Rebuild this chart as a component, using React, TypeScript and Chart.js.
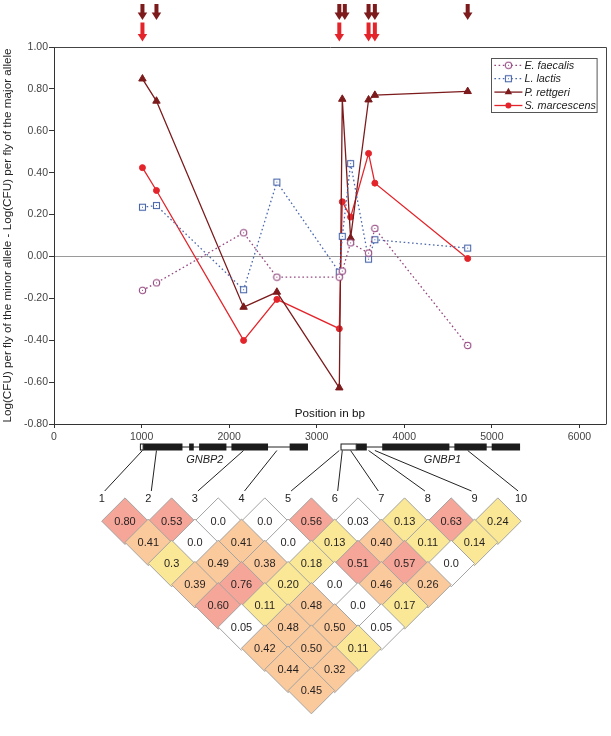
import React, { useEffect, useRef } from 'react';
import { Chart, registerables } from 'chart.js';

Chart.register(...registerables);

const FONT = '"Liberation Sans", Arial, Helvetica, sans-serif';

// ---- main plot data ----
const SNP_POSITIONS = [1010, 1170, 2165, 2545, 3258, 3292, 3387, 3592, 3664, 4724];
const SNP_LABELS = ['1', '2', '3', '4', '5', '6', '7', '8', '9', '10'];

const E_FAECALIS = [-0.162, -0.126, 0.113, -0.099, -0.099, -0.07, 0.065, 0.016, 0.134, -0.425];
const L_LACTIS = [0.235, 0.243, -0.159, 0.355, -0.075, 0.096, 0.443, -0.013, 0.08, 0.04];
const P_RETTGERI = [0.848, 0.742, -0.242, -0.17, -0.627, 0.751, 0.088, 0.748, 0.77, 0.788];
const S_MARCESCENS = [0.424, 0.315, -0.401, -0.205, -0.345, 0.261, 0.188, 0.492, 0.35, -0.01];

const SERIES_NAMES = ['E. faecalis', 'L. lactis', 'P. rettgeri', 'S. marcescens'];

// SNPs marked with arrows (significant) for P. rettgeri (dark) and S. marcescens (red)
const P_RETTGERI_SIGNIFICANT = [1, 2, 5, 6, 8, 9, 10];
const S_MARCESCENS_SIGNIFICANT = [1, 5, 8, 9];

const X_TICK_LABELS = ['0', '1000', '2000', '3000', '4000', '5000', '6000'];
const Y_TICK_LABELS = ['-0.80', '-0.60', '-0.40', '-0.20', '0.00', '0.20', '0.40', '0.60', '0.80', '1.00'];

// ---- gene models (bp) ----
const GENE_NAMES = ['GNBP2', 'GNBP1'];
const GENE_SPANS = [[981, 2900], [3272, 5322]];
const GENE_UTRS = [[981, 1018], [3272, 3451]];
const GNBP2_EXONS = [[1018, 1467], [1543, 1596], [1657, 1969], [2026, 2444], [2691, 2900]];
const GNBP1_EXONS = [[3451, 3572], [3748, 4515], [4572, 4941], [4998, 5322]];
const GENE_LABEL_POS = [1722, 4436];

// ---- LD (r2) triangle: row d holds pairs (i, i+d) ----
const LD_ROW1 = ['0.80', '0.53', '0.0', '0.0', '0.56', '0.03', '0.13', '0.63', '0.24'];
const LD_ROW2 = ['0.41', '0.0', '0.41', '0.0', '0.13', '0.40', '0.11', '0.14'];
const LD_ROW3 = ['0.3', '0.49', '0.38', '0.18', '0.51', '0.57', '0.0'];
const LD_ROW4 = ['0.39', '0.76', '0.20', '0.0', '0.46', '0.26'];
const LD_ROW5 = ['0.60', '0.11', '0.48', '0.0', '0.17'];
const LD_ROW6 = ['0.05', '0.48', '0.50', '0.05'];
const LD_ROW7 = ['0.42', '0.50', '0.11'];
const LD_ROW8 = ['0.44', '0.32'];
const LD_ROW9 = ['0.45'];
// LD strength class per cell: h = strong, m = moderate, l = weak, n = none
const LD_CLASS = ['hhnnhnlhl', 'mnmnlmll', 'lmmlhhn', 'mhlnmm', 'hlmnl', 'nmmn', 'mml', 'mm', 'm'];

const LD_ROWS = [LD_ROW1, LD_ROW2, LD_ROW3, LD_ROW4, LD_ROW5, LD_ROW6, LD_ROW7, LD_ROW8, LD_ROW9];
const LD_COLORS: Record<string, string> = { h: '#f5a698', m: '#fbca9c', l: '#fae896', n: '#ffffff' };

const PURPLE = '#94477f';
const BLUE = '#4a67ab';
const DARK_RED = '#7c1a1c';
const RED = '#e3252b';

function makeMarker(kind: 'circle' | 'square', color: string) {
  const c = document.createElement('canvas');
  c.width = 9;
  c.height = 9;
  const g = c.getContext('2d')!;
  g.fillStyle = '#ffffff';
  g.strokeStyle = color;
  g.lineWidth = 1.1;
  if (kind === 'circle') {
    g.beginPath();
    g.arc(4.5, 4.5, 3.2, 0, Math.PI * 2);
    g.fill();
    g.stroke();
  } else {
    g.fillRect(1.5, 1.5, 6, 6);
    g.strokeRect(1.5, 1.5, 6, 6);
  }
  g.fillStyle = color;
  g.fillRect(4, 4, 1, 1);
  return c;
}

function drawArrow(ctx: CanvasRenderingContext2D, x: number, tipY: number, len: number, color: string) {
  const shaftW = 4;
  const headW = 9.5;
  const headH = 7.5;
  ctx.fillStyle = color;
  ctx.fillRect(x - shaftW / 2, tipY - len, shaftW, len - headH + 0.5);
  ctx.beginPath();
  ctx.moveTo(x - headW / 2, tipY - headH);
  ctx.lineTo(x + headW / 2, tipY - headH);
  ctx.lineTo(x, tipY);
  ctx.closePath();
  ctx.fill();
}

export default function App() {
  const refA = useRef<HTMLCanvasElement>(null);
  const refB = useRef<HTMLCanvasElement>(null);

  useEffect(() => {
    const circleMarker = makeMarker('circle', PURPLE);
    const squareMarker = makeMarker('square', BLUE);
    const values = [E_FAECALIS, L_LACTIS, P_RETTGERI, S_MARCESCENS];

    const mainPlugin = {
      id: 'decor',
      afterDraw(chart: any) {
        const ctx: CanvasRenderingContext2D = chart.ctx;
        const a = chart.chartArea;
        const xs = chart.scales.x;
        ctx.save();
        // top & right frame
        ctx.strokeStyle = '#444';
        ctx.lineWidth = 1;
        ctx.beginPath();
        ctx.moveTo(Math.round(a.left) + 0.5, Math.round(a.top) + 0.5);
        ctx.lineTo(Math.round(a.right) + 0.5, Math.round(a.top) + 0.5);
        ctx.lineTo(Math.round(a.right) + 0.5, Math.round(a.bottom) + 0.5);
        ctx.stroke();

        // axis title inside plot
        ctx.fillStyle = '#111';
        ctx.font = `11.7px ${FONT}`;
        ctx.textAlign = 'center';
        ctx.textBaseline = 'middle';
        ctx.fillText('Position in bp', (a.left + a.right) / 2, a.bottom - 10.5);

        // legend
        const bw = 105.6;
        const bh = 54;
        const bx = a.right - 114.3;
        const by = a.top + 11.3;
        ctx.fillStyle = '#fff';
        ctx.fillRect(bx, by, bw, bh);
        ctx.strokeStyle = '#555';
        ctx.strokeRect(Math.round(bx) + 0.5, Math.round(by) + 0.5, bw, bh);
        chart.data.datasets.forEach((ds: any, k: number) => {
          const y = by + 7 + k * 13.4;
          const x0 = bx + 3;
          const x1 = bx + 31;
          ctx.strokeStyle = ds.borderColor;
          ctx.lineWidth = ds.borderWidth;
          ctx.setLineDash(ds.borderDash || []);
          ctx.beginPath();
          ctx.moveTo(x0, y);
          ctx.lineTo(x1, y);
          ctx.stroke();
          ctx.setLineDash([]);
          const cx = (x0 + x1) / 2;
          if (typeof ds.pointStyle === 'object') {
            ctx.drawImage(ds.pointStyle, cx - 4.5, y - 4.5);
          } else if (ds.pointStyle === 'triangle') {
            const r = ds.pointRadius;
            ctx.fillStyle = ds.pointBackgroundColor;
            ctx.beginPath();
            ctx.moveTo(cx, y - r);
            ctx.lineTo(cx + r * 0.866, y + r / 2);
            ctx.lineTo(cx - r * 0.866, y + r / 2);
            ctx.closePath();
            ctx.fill();
          } else {
            ctx.fillStyle = ds.pointBackgroundColor;
            ctx.beginPath();
            ctx.arc(cx, y, ds.pointRadius, 0, Math.PI * 2);
            ctx.fill();
          }
          ctx.fillStyle = '#222';
          ctx.font = `italic 10.8px ${FONT}`;
          ctx.textAlign = 'left';
          ctx.fillText(ds.label, x1 + 2, y + 0.5);
        });

        // significance arrows
        const arrowXs = (list: number[]) => {
          const out: number[] = [];
          list.forEach((snp) => {
            let x = xs.getPixelForValue(SNP_POSITIONS[snp - 1]);
            if (out.length && x - out[out.length - 1] < 5.5) x = out[out.length - 1] + 5.5;
            out.push(x);
          });
          return out;
        };
        arrowXs(P_RETTGERI_SIGNIFICANT).forEach((x) => drawArrow(ctx, x, a.top - 27, 16, DARK_RED));
        arrowXs(S_MARCESCENS_SIGNIFICANT).forEach((x) => drawArrow(ctx, x, a.top - 5.5, 19, RED));

        // gene models
        const gTop = a.bottom + 19.5;
        const gH = 7;
        const exonSets = [GNBP2_EXONS, GNBP1_EXONS];
        GENE_SPANS.forEach((span, g) => {
          ctx.strokeStyle = '#222';
          ctx.lineWidth = 1;
          ctx.beginPath();
          ctx.moveTo(xs.getPixelForValue(span[0]), gTop + gH / 2);
          ctx.lineTo(xs.getPixelForValue(span[1]), gTop + gH / 2);
          ctx.stroke();
          ctx.fillStyle = '#1c1c1c';
          exonSets[g].forEach(([s, e]) => {
            const x0 = xs.getPixelForValue(s);
            const x1 = xs.getPixelForValue(e);
            ctx.fillRect(x0, gTop, x1 - x0, gH);
          });
          const u0 = xs.getPixelForValue(GENE_UTRS[g][0]);
          const u1 = xs.getPixelForValue(GENE_UTRS[g][1]);
          ctx.fillStyle = '#fff';
          ctx.fillRect(u0, gTop, u1 - u0, gH);
          ctx.strokeStyle = '#1c1c1c';
          ctx.strokeRect(u0 + 0.5, gTop + 0.5, u1 - u0 - 0.5, gH - 1);
          ctx.fillStyle = '#222';
          ctx.font = `italic 11px ${FONT}`;
          ctx.textAlign = 'center';
          ctx.textBaseline = 'middle';
          ctx.fillText(GENE_NAMES[g], xs.getPixelForValue(GENE_LABEL_POS[g]), gTop + 16.5);
        });
        ctx.restore();
      },
    };

    const chartA = new Chart(refA.current!, {
      type: 'scatter',
      data: {
        datasets: [
          {
            label: SERIES_NAMES[0],
            data: SNP_POSITIONS.map((x, i) => ({ x, y: values[0][i] })),
            showLine: true,
            borderColor: PURPLE,
            borderWidth: 1.3,
            borderDash: [1.6, 2.6],
            pointStyle: circleMarker as any,
            pointRadius: 4,
            pointBackgroundColor: '#fff',
            pointBorderColor: PURPLE,
          },
          {
            label: SERIES_NAMES[1],
            data: SNP_POSITIONS.map((x, i) => ({ x, y: values[1][i] })),
            showLine: true,
            borderColor: BLUE,
            borderWidth: 1.3,
            borderDash: [1.6, 2.6],
            pointStyle: squareMarker as any,
            pointRadius: 4,
            pointBackgroundColor: '#fff',
            pointBorderColor: BLUE,
          },
          {
            label: SERIES_NAMES[2],
            data: SNP_POSITIONS.map((x, i) => ({ x, y: values[2][i] })),
            showLine: true,
            borderColor: DARK_RED,
            borderWidth: 1.3,
            pointStyle: 'triangle',
            pointRadius: 4.3,
            pointBackgroundColor: DARK_RED,
            pointBorderColor: DARK_RED,
            pointBorderWidth: 1,
          },
          {
            label: SERIES_NAMES[3],
            data: SNP_POSITIONS.map((x, i) => ({ x, y: values[3][i] })),
            showLine: true,
            borderColor: RED,
            borderWidth: 1.3,
            pointStyle: 'circle',
            pointRadius: 3,
            pointBackgroundColor: RED,
            pointBorderColor: RED,
            pointBorderWidth: 1,
          },
        ],
      },
      options: {
        responsive: false,
        animation: false,
        devicePixelRatio: 1,
        events: [],
        layout: { padding: { left: 0, top: 47, right: 4, bottom: 290 } },
        font: { family: FONT },
        scales: {
          x: {
            type: 'linear',
            min: 0,
            max: 6300,
            afterBuildTicks: (s: any) => {
              s.ticks = X_TICK_LABELS.map((t) => ({ value: Number(t) }));
            },
            afterFit: (s: any) => {
              s.height = 22;
            },
            grid: { drawOnChartArea: false, tickLength: 4, tickColor: '#333' },
            border: { color: '#333', width: 1 },
            ticks: {
              autoSkip: false,
              maxRotation: 0,
              padding: 3,
              color: '#444',
              font: { size: 10.5, family: FONT },
              callback: (v: any) => String(v),
            },
          },
          y: {
            type: 'linear',
            min: -0.8,
            max: 1.0,
            afterBuildTicks: (s: any) => {
              s.ticks = Y_TICK_LABELS.map((t) => ({ value: Number(t) }));
            },
            afterFit: (s: any) => {
              s.width = 54;
            },
            grid: {
              color: (c: any) => (c.tick && Math.abs(c.tick.value) < 1e-9 ? '#9a9a9a' : 'rgba(0,0,0,0)'),
              tickColor: '#333',
              tickLength: 5,
            },
            border: { color: '#333', width: 1 },
            ticks: {
              padding: 1,
              color: '#444',
              font: { size: 10.5, family: FONT },
              callback: (v: any) => {
                const n = Number(v);
                return Math.abs(n) < 1e-9 ? '0.00' : n.toFixed(2);
              },
            },
            title: {
              display: true,
              text: 'Log(CFU) per fly of the minor allele - Log(CFU) per fly of the major allele',
              color: '#222',
              font: { size: 11.7, family: FONT },
              padding: { top: 1, bottom: 0 },
            },
          },
        },
        plugins: { legend: { display: false }, tooltip: { enabled: false } },
      },
      plugins: [mainPlugin],
    } as any);

    // ---- LD heatmap chart ----
    const cells: { x: number; y: number; text: string; cls: string }[] = [];
    LD_ROWS.forEach((row, r) => {
      const d = r + 1;
      row.forEach((txt, k) => {
        cells.push({ x: k + 1 + d / 2, y: d, text: txt, cls: LD_CLASS[r][k] });
      });
    });

    const ldPlugin = {
      id: 'ldText',
      afterDatasetsDraw(chart: any) {
        const ctx: CanvasRenderingContext2D = chart.ctx;
        const meta = chart.getDatasetMeta(0);
        ctx.save();
        ctx.fillStyle = '#231f20';
        ctx.font = `11px ${FONT}`;
        ctx.textAlign = 'center';
        ctx.textBaseline = 'middle';
        meta.data.forEach((pt: any, k: number) => {
          ctx.fillText(cells[k].text, pt.x, pt.y + 0.5);
        });
        // SNP number labels and leader lines to the gene model
        const xi = chart.scales.xi;
        const yr = chart.scales.yr;
        const xa = chartA.scales.x;
        const geneBottom = chartA.chartArea.bottom + 26.5;
        const labelY = yr.getPixelForValue(0) - 1;
        ctx.font = `11px ${FONT}`;
        ctx.fillStyle = '#222';
        ctx.strokeStyle = '#222';
        ctx.lineWidth = 1;
        SNP_LABELS.forEach((lab, i) => {
          const lx = xi.getPixelForValue(i + 1);
          const gx = xa.getPixelForValue(SNP_POSITIONS[i]);
          const sign = gx > lx ? 1 : -1;
          ctx.beginPath();
          ctx.moveTo(gx, geneBottom);
          ctx.lineTo(lx + 3 * sign, labelY - 8);
          ctx.stroke();
          ctx.fillText(lab, lx, labelY);
        });
        ctx.restore();
      },
    };

    const chartB = new Chart(refB.current!, {
      type: 'scatter',
      data: {
        datasets: [
          {
            label: 'LD',
            data: cells.map((c) => ({ x: c.x, y: c.y })),
            xAxisID: 'xi',
            yAxisID: 'yr',
            pointStyle: 'rectRot',
            pointRadius: 23.3,
            pointHoverRadius: 23.3,
            pointBackgroundColor: cells.map((c) => LD_COLORS[c.cls]),
            pointBorderColor: '#a3a3a3',
            pointBorderWidth: 1,
            clip: false,
          },
        ],
      },
      options: {
        responsive: false,
        animation: false,
        devicePixelRatio: 1,
        events: [],
        layout: { padding: { left: 101.7, right: 89.9, top: 500, bottom: 3 } },
        scales: {
          xi: { type: 'linear', min: 1, max: 10, display: false },
          yr: { type: 'linear', min: 0, max: 10, reverse: true, display: false },
        },
        plugins: { legend: { display: false }, tooltip: { enabled: false } },
      },
      plugins: [ldPlugin],
    } as any);

    return () => {
      chartB.destroy();
      chartA.destroy();
    };
  }, []);

  return (
    <div style={{ position: 'absolute', left: 0, top: 0, width: 611, height: 736, background: '#fff' }}>
      <canvas ref={refA} width={611} height={736} style={{ position: 'absolute', left: 0, top: 0 }} />
      <canvas
        ref={refB}
        width={611}
        height={736}
        style={{ position: 'absolute', left: 0, top: 0, pointerEvents: 'none' }}
      />
    </div>
  );
}
